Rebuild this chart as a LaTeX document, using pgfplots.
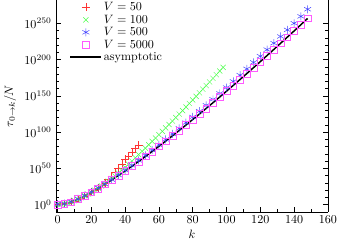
\documentclass[border=0pt]{standalone}
\usepackage{pgfplots}
\pgfplotsset{compat=1.18}
\definecolor{cred}{rgb}{1,0.2,0.2}
\definecolor{cgreen}{rgb}{0.3,1,0.3}
\definecolor{cblue}{rgb}{0.25,0.25,1}
\definecolor{cmag}{rgb}{1,0.35,1}
\begin{document}
\begin{tikzpicture}
\begin{axis}[
  scale only axis,
  width=225pt, height=175pt,
  xmin=-1, xmax=160, ymin=-10, ymax=282,
  axis x line*=bottom,
  xtick={0,20,...,160}, minor x tick num=1,
  ytick={0,50,100,150,200,250},
  yticklabels={$10^{0}$,$10^{50}$,$10^{100}$,$10^{150}$,$10^{200}$,$10^{250}$},
  minor y tick num=4,
  tick style={black, thin},
  major tick length=4pt, minor tick length=2.5pt,
  xlabel={$k$}, ylabel={$\tau_{0\to k}/N$},
  xlabel style={yshift=2pt},
  legend image code/.code={\draw[mark repeat=2,mark phase=2,#1] plot coordinates {(0cm,0cm) (0.45cm,0cm) (0.9cm,0cm)};},
  legend style={at={(0.05,1.0)}, anchor=north west, draw=none, fill=none, inner sep=0pt, row sep=-1pt, nodes={inner sep=1.5pt}},
  legend cell align=left,
]
\addplot[only marks, mark=+, mark size=3.3pt, cred, line width=0.4pt] coordinates {
(0,0.3)(2,0.1)(4,1.2)(6,1.9)(8,3.9)(10,5.2)(12,7.6)(14,9.3)(16,12.2)(18,14.2)(20,17.4)(22,19.5)(24,22.9)(26,26.1)(28,30.0)(30,34.4)(32,38.9)(34,44.0)(36,50.1)(38,56.2)(40,62.4)(42,66.6)(44,71.9)(46,77.2)(48,81.6)};
\addlegendentry{$V=50$}
\addplot[only marks, mark=x, mark size=3pt, cgreen, line width=0.4pt] coordinates {
(0,0.2)(2,0.4)(4,1.0)(6,2.2)(8,3.7)(10,5.5)(12,7.4)(14,9.6)(16,12.0)(18,14.5)(20,17.1)(22,19.8)(24,22.7)(26,25.7)(28,28.9)(30,32.2)(32,35.7)(34,39.5)(36,43.4)(38,47.3)(40,51.4)(42,55.7)(44,60.1)(46,64.5)(48,69.0)(50,73.5)(52,78.0)(54,82.6)(56,87.2)(58,91.8)(60,96.4)(62,101.1)(64,105.8)(66,110.5)(68,115.3)(70,120.1)(72,124.9)(74,129.7)(76,134.6)(78,139.5)(80,144.4)(82,149.3)(84,154.2)(86,159.2)(88,164.2)(90,169.2)(92,174.2)(94,179.2)(96,184.3)(98,189.4)};
\addlegendentry{$V=100$}
\addplot[only marks, mark=asterisk, mark size=3.3pt, cblue, line width=0.4pt] coordinates {
(0,0.5)(4,1.2)(8,4.0)(12,7.8)(16,12.3)(20,17.3)(24,22.8)(28,28.5)(32,34.5)(36,40.8)(40,47.4)(44,54.1)(48,61.0)(52,68.0)(56,75.1)(60,82.4)(64,89.9)(68,97.5)(72,105.2)(76,113.0)(80,120.9)(84,128.9)(88,137.0)(92,145.2)(96,153.4)(100,161.5)(104,170.0)(108,178.6)(112,187.3)(116,196.2)(120,204.8)(124,213.8)(128,222.8)(132,232.0)(136,241.1)(140,250.2)(144,259.7)(148,269.5)};
\addlegendentry{$V=500$}
\addplot[only marks, mark=square, mark size=2.8pt, cmag, line width=0.4pt] coordinates {
(0,0.1)(4,0.9)(8,3.3)(12,7.6)(16,11.7)(20,17.1)(24,22.2)(28,28.2)(32,33.8)(36,40.3)(40,46.3)(44,53.1)(48,59.5)(52,66.6)(56,73.3)(60,80.6)(64,87.5)(68,95.1)(72,102.2)(76,110.0)(80,117.3)(84,125.2)(88,132.7)(92,140.8)(96,148.4)(100,156.7)(104,164.4)(108,172.8)(112,180.7)(116,189.2)(120,197.2)(124,205.9)(128,214.0)(132,222.8)(136,231.0)(140,239.8)(144,248.1)(148,257.1)};
\addlegendentry{$V=5000$}
\addplot[black, line width=1.2pt, no marks] coordinates {
(0,0)(4,0.8)(8,3.5)(12,7.4)(16,11.8)(20,16.9)(24,22.3)(28,28.0)(32,33.9)(36,40.1)(40,46.4)(44,52.9)(48,59.6)(52,66.4)(56,73.4)(60,80.4)(64,87.6)(68,94.9)(72,102.3)(76,109.8)(80,117.4)(84,125.0)(88,132.8)(92,140.6)(96,148.5)(100,156.5)(104,164.5)(108,172.6)(112,180.8)(116,189.0)(120,197.3)(124,205.7)(128,214.1)(132,222.6)(136,231.1)(140,239.6)(144,248.2)(148,256.9)};
\addlegendentry{asymptotic}
\end{axis}
\end{tikzpicture}
\end{document}
